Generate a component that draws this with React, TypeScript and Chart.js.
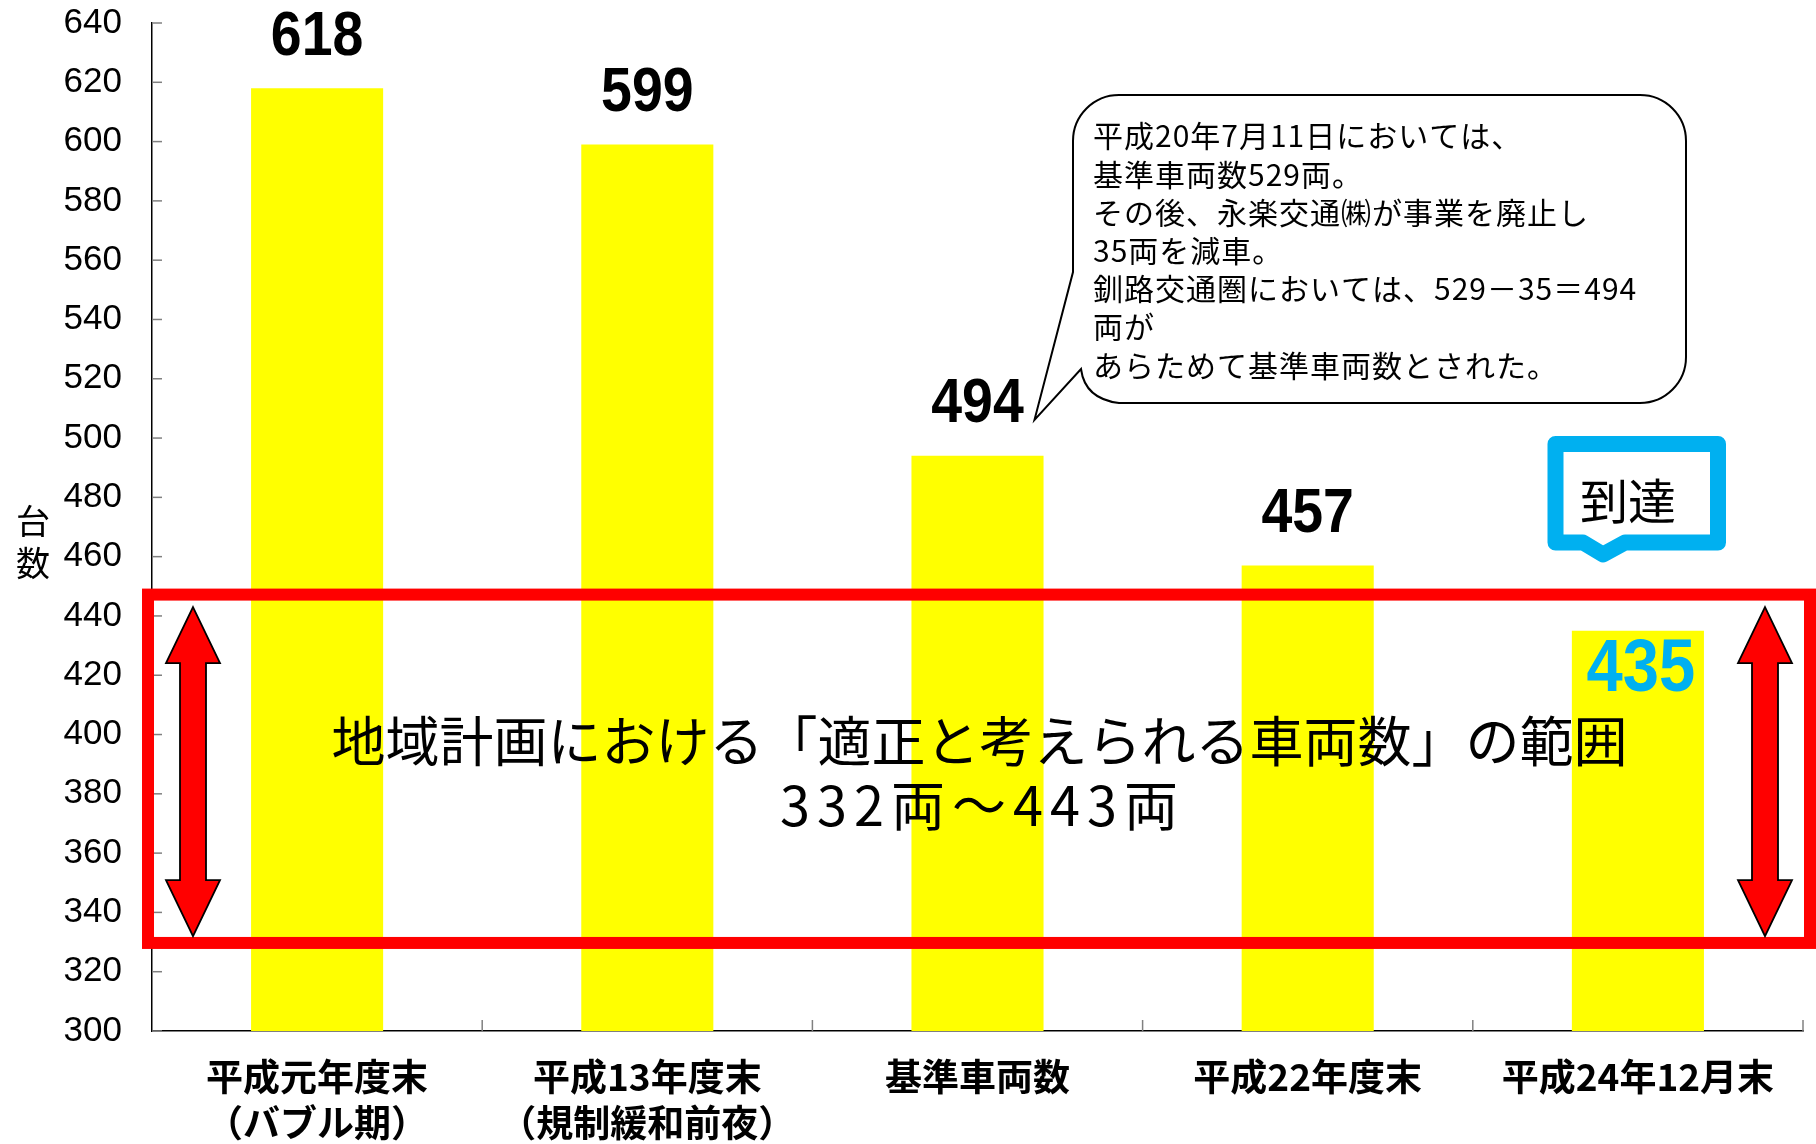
import React, { useEffect, useRef } from "react";
import { Chart, registerables } from "chart.js";

Chart.register(...registerables);

// ---- data ----
const categories: string[][] = [
  ["平成元年度末", "（バブル期）"],
  ["平成13年度末", "（規制緩和前夜）"],
  ["基準車両数"],
  ["平成22年度末"],
  ["平成24年12月末"],
];
const vehicleCounts: number[] = [618, 599, 494, 457, 435];
const labelColors: string[] = ["#000000", "#000000", "#000000", "#000000", "#00B0F0"];
const labelInside: boolean[] = [false, false, false, false, true];
const labelSizes: number[] = [63, 63, 63, 63, 74];

const yMin = 300;
const yMax = 640;
const yStep = 20;
const yTitleChars: string[] = ["台", "数"];

const rangeLines: string[] = ["地域計画における「適正と考えられる車両数」の範囲", "332両～443両"];
const rangeBoxTop = 447.2;
const rangeBoxBottom = 329.7;
const arrowTop = 443;
const arrowBottom = 332;

const noteLines: string[] = [
  "平成20年7月11日においては、",
  "基準車両数529両。",
  "その後、永楽交通㈱が事業を廃止し",
  "35両を減車。",
  "釧路交通圏においては、529－35＝494",
  "両が",
  "あらためて基準車両数とされた。",
];
const reachedText = "到達";

const CJK = '"Noto Sans CJK JP", "Noto Sans", sans-serif';
const NUM = '"Liberation Sans", Arial, sans-serif';

function drawArrow(ctx: CanvasRenderingContext2D, x: number, yTop: number, yBot: number) {
  const headH = 56;
  const headW = 54;
  const shaftW = 26;
  ctx.beginPath();
  ctx.moveTo(x, yTop);
  ctx.lineTo(x + headW / 2, yTop + headH);
  ctx.lineTo(x + shaftW / 2, yTop + headH);
  ctx.lineTo(x + shaftW / 2, yBot - headH);
  ctx.lineTo(x + headW / 2, yBot - headH);
  ctx.lineTo(x, yBot);
  ctx.lineTo(x - headW / 2, yBot - headH);
  ctx.lineTo(x - shaftW / 2, yBot - headH);
  ctx.lineTo(x - shaftW / 2, yTop + headH);
  ctx.lineTo(x - headW / 2, yTop + headH);
  ctx.closePath();
  ctx.fillStyle = "#FF0000";
  ctx.fill();
  ctx.lineWidth = 1.8;
  ctx.strokeStyle = "#000000";
  ctx.stroke();
}

const overlayPlugin = {
  id: "overlay",
  afterDraw(chart: any) {
    const ctx: CanvasRenderingContext2D = chart.ctx;
    const area = chart.chartArea;
    const ys = chart.scales.y;
    const xs = chart.scales.x;
    ctx.save();

    // inner ticks on y axis
    ctx.strokeStyle = "#808080";
    ctx.lineWidth = 1.5;
    for (let v = yMin; v <= yMax; v += yStep) {
      const py = ys.getPixelForValue(v);
      ctx.beginPath();
      ctx.moveTo(area.left, py);
      ctx.lineTo(area.left + 10, py);
      ctx.stroke();
    }
    // inner ticks on x axis at category boundaries
    const n = categories.length;
    for (let i = 1; i <= n; i++) {
      const px = i < n ? (xs.getPixelForValue(i - 1) + xs.getPixelForValue(i)) / 2 : area.right;
      ctx.beginPath();
      ctx.moveTo(px, area.bottom);
      ctx.lineTo(px, area.bottom - 11);
      ctx.stroke();
    }

    // y title, upright stacked
    ctx.fillStyle = "#000000";
    ctx.font = `34px ${CJK}`;
    ctx.textAlign = "center";
    ctx.textBaseline = "middle";
    yTitleChars.forEach((c, i) => ctx.fillText(c, 33, 521 + i * 42));

    // red range box
    const boxTop = ys.getPixelForValue(rangeBoxTop);
    const boxBot = ys.getPixelForValue(rangeBoxBottom);
    ctx.strokeStyle = "#FF0000";
    ctx.lineWidth = 12;
    ctx.strokeRect(area.left - 4, boxTop, area.right + 7 - (area.left - 4), boxBot - boxTop);

    // arrows
    const aTop = ys.getPixelForValue(arrowTop);
    const aBot = ys.getPixelForValue(arrowBottom);
    drawArrow(ctx, area.left + 41, aTop, aBot);
    drawArrow(ctx, area.right - 38, aTop, aBot);

    // central text
    const cx = (area.left + area.right) / 2;
    ctx.fillStyle = "#000000";
    ctx.textAlign = "center";
    ctx.textBaseline = "middle";
    ctx.font = `54px ${CJK}`;
    ctx.fillText(rangeLines[0], cx + 2, 741);
    (ctx as any).letterSpacing = "7px";
    ctx.fillText(rangeLines[1], cx + 5, 805);
    (ctx as any).letterSpacing = "0px";

    // bar value labels (narrowed bold digits)
    const meta = chart.getDatasetMeta(0);
    meta.data.forEach((el: any, i: number) => {
      ctx.save();
      ctx.fillStyle = labelColors[i];
      ctx.font = `bold ${labelSizes[i]}px ${NUM}`;
      ctx.textAlign = "center";
      ctx.textBaseline = "middle";
      const ly = labelInside[i] ? el.y + 40 : el.y - 51;
      const lx = el.x + (labelInside[i] ? 3 : 0);
      ctx.translate(lx, ly);
      ctx.scale(0.88, 1);
      ctx.fillText(String(vehicleCounts[i]), 0, 0);
      ctx.restore();
    });

    // speech bubble
    const bar3 = meta.data[2];
    const L = 1073, R = 1686, T = 95, B = 403, r = 46;
    const tipX = bar3.x + 57;
    const tipY = bar3.y - 36;
    ctx.beginPath();
    ctx.moveTo(L + r, T);
    ctx.lineTo(R - r, T);
    ctx.arcTo(R, T, R, T + r, r);
    ctx.lineTo(R, B - r);
    ctx.arcTo(R, B, R - r, B, r);
    ctx.lineTo(L + r, B);
    ctx.quadraticCurveTo(L + 12, B - 4, L + 8, B - 34);
    ctx.lineTo(tipX, tipY);
    ctx.lineTo(L, 272);
    ctx.lineTo(L, T + r);
    ctx.arcTo(L, T, L + r, T, r);
    ctx.closePath();
    ctx.fillStyle = "#FFFFFF";
    ctx.fill();
    ctx.strokeStyle = "#000000";
    ctx.lineWidth = 2;
    ctx.stroke();

    ctx.fillStyle = "#000000";
    ctx.font = `30px ${CJK}`;
    ctx.textAlign = "left";
    ctx.textBaseline = "middle";
    (ctx as any).letterSpacing = "1px";
    noteLines.forEach((line, i) => ctx.fillText(line, 1093, 136 + i * 38.2));
    (ctx as any).letterSpacing = "0px";

    // "到達" callout
    const bL = 1555.5, bR = 1718, bT = 444, bB = 542.5;
    const pX = 1603;
    ctx.beginPath();
    ctx.moveTo(bL, bT);
    ctx.lineTo(bR, bT);
    ctx.lineTo(bR, bB);
    ctx.lineTo(pX + 22, bB);
    ctx.lineTo(pX, bB + 12);
    ctx.lineTo(pX - 20, bB);
    ctx.lineTo(bL, bB);
    ctx.closePath();
    ctx.fillStyle = "#FFFFFF";
    ctx.fill();
    ctx.lineJoin = "round";
    ctx.lineWidth = 16;
    ctx.strokeStyle = "#00B0F0";
    ctx.stroke();
    ctx.fillStyle = "#000000";
    ctx.font = `48px ${CJK}`;
    ctx.textAlign = "center";
    ctx.textBaseline = "middle";
    ctx.fillText(reachedText, 1628, 501);

    ctx.restore();
  },
};

export default function App() {
  const canvasRef = useRef<HTMLCanvasElement | null>(null);

  useEffect(() => {
    const canvas = canvasRef.current;
    if (!canvas) return;
    const chart = new Chart(canvas, {
      type: "bar",
      data: {
        labels: categories,
        datasets: [
          {
            data: vehicleCounts,
            backgroundColor: "#FFFF00",
            borderWidth: 0,
            barPercentage: 0.4,
            categoryPercentage: 1,
          },
        ],
      },
      options: {
        responsive: false,
        maintainAspectRatio: false,
        animation: false,
        devicePixelRatio: 1,
        layout: { padding: { top: 23, right: 13, left: 0, bottom: 0 } },
        plugins: {
          legend: { display: false },
          tooltip: { enabled: false },
          title: { display: false },
        },
        scales: {
          x: {
            offset: true,
            grid: { display: false, drawTicks: false },
            border: { display: true, color: "#000000", width: 1.5 },
            ticks: {
              autoSkip: false,
              maxRotation: 0,
              minRotation: 0,
              padding: 23,
              color: "#000000",
              font: { family: CJK, size: 37, weight: "bold", lineHeight: 1.25 },
            },
            afterFit: (scale: any) => {
              scale.height = 113;
              scale.paddingLeft = 0;
              scale.paddingRight = 0;
            },
          },
          y: {
            min: yMin,
            max: yMax,
            grid: { display: false, drawTicks: false },
            border: { display: true, color: "#000000", width: 1.5 },
            ticks: {
              stepSize: yStep,
              padding: 30,
              color: "#000000",
              font: { family: NUM, size: 35 },
            },
            afterFit: (scale: any) => {
              scale.width = 152;
              scale.paddingTop = 0;
              scale.paddingBottom = 0;
            },
          },
        },
      },
      plugins: [overlayPlugin],
    });
    return () => chart.destroy();
  }, []);

  return (
    <div style={{ position: "absolute", left: 0, top: 0, width: 1816, height: 1144, background: "#FFFFFF" }}>
      <canvas ref={canvasRef} width={1816} height={1144} style={{ display: "block" }} />
    </div>
  );
}
